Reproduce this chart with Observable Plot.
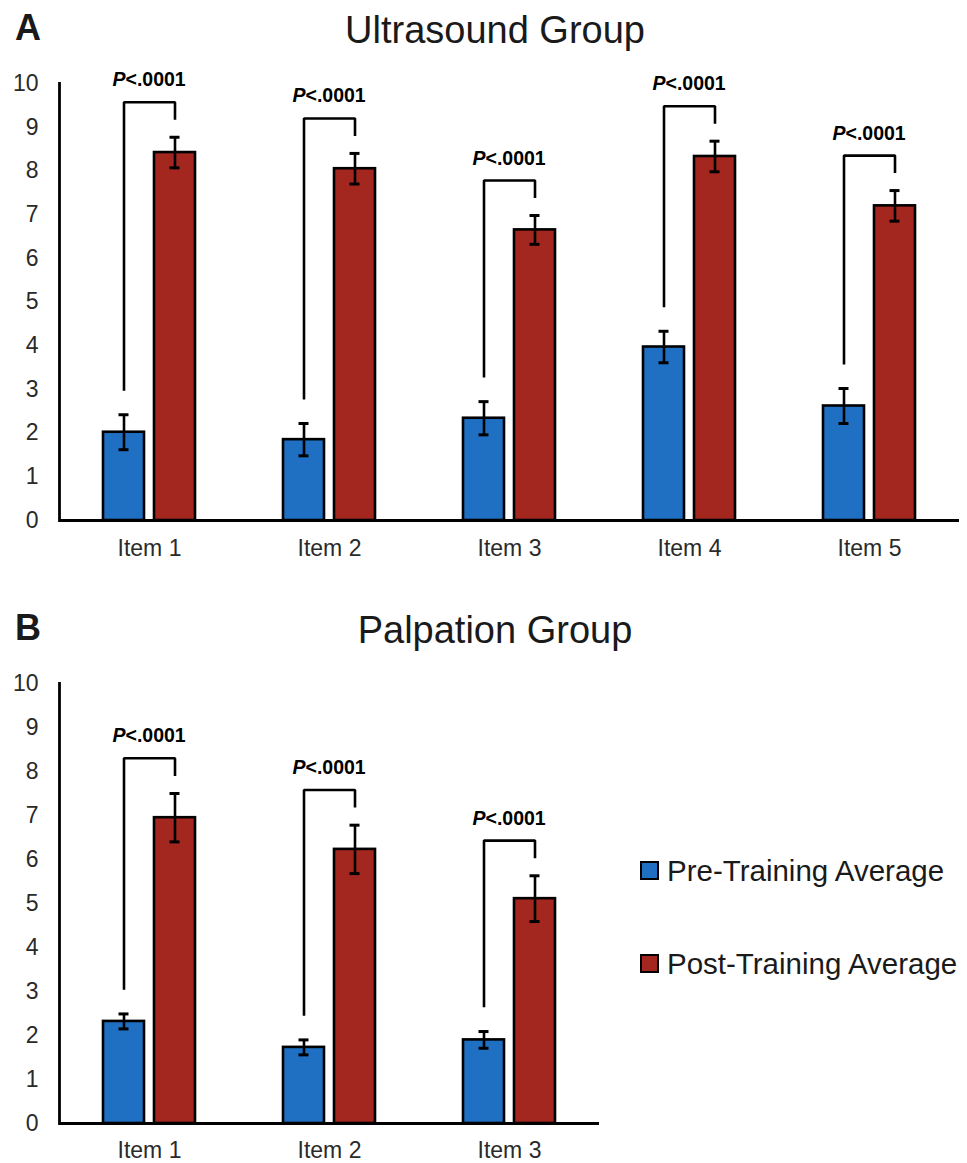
<!DOCTYPE html>
<html>
<head>
<meta charset="utf-8">
<script src="https://cdn.jsdelivr.net/npm/d3@7"></script>
<script src="https://cdn.jsdelivr.net/npm/@observablehq/plot@0.6"></script>
<style>
  html, body { margin: 0; padding: 0; background: #fff; }
  #page { position: relative; width: 967px; height: 1163px; font-family: "Liberation Sans", Arial, sans-serif; color: #1a1a1a; overflow: hidden; }
  .abs { position: absolute; white-space: nowrap; }
  .panel { position: absolute; left: 0; }
  .title { font-size: 38px; line-height: 1; }
  .letter { font-size: 36px; font-weight: bold; line-height: 1; }
  .legend-item { position: absolute; left: 640px; font-size: 29.5px; line-height: 1; }
  .swatch { display: inline-block; width: 15px; height: 15px; border: 2px solid #000; vertical-align: middle; margin-right: 8px; position: relative; top: -3px; }
</style>
</head>
<body>
<div id="page">
  <div class="abs letter" style="left:15px; top:10px;">A</div>
  <div class="abs title" style="left:495px; top:11px; transform:translateX(-50%);">Ultrasound Group</div>
  <div class="panel" id="chartA" style="top:0px;"></div>
  <div class="abs letter" style="left:15px; top:610px;">B</div>
  <div class="abs title" style="left:495px; top:611px; transform:translateX(-50%);">Palpation Group</div>
  <div class="panel" id="chartB" style="top:600px;"></div>
  <div id="legend"></div>
</div>
<script>
// ---- data ----
const phases = ["Pre-Training Average", "Post-Training Average"];
const phaseColors = ["#1f6fc2", "#a3271f"];
const yTicks = [0, 1, 2, 3, 4, 5, 6, 7, 8, 9, 10];
const pLabel = "<.0001";

const itemsA = ["Item 1", "Item 2", "Item 3", "Item 4", "Item 5"];
const preA = [2.02, 1.85, 2.34, 3.97, 2.62];
const preErrA = [0.40, 0.37, 0.38, 0.36, 0.40];
const postA = [8.42, 8.05, 6.65, 8.33, 7.20];
const postErrA = [0.35, 0.35, 0.33, 0.35, 0.35];

const itemsB = ["Item 1", "Item 2", "Item 3"];
const preB = [2.32, 1.73, 1.90];
const preErrB = [0.17, 0.17, 0.19];
const postB = [6.95, 6.23, 5.11];
const postErrB = [0.55, 0.55, 0.52];

// ---- build ----
function makeChart(items, pre, preErr, post, postErr, opts) {
  const rows = [];
  const brackets = [];
  const labels = [];
  items.forEach((item, i) => {
    rows.push({item, phase: phases[0], value: pre[i], lo: pre[i] - preErr[i], hi: pre[i] + preErr[i]});
    rows.push({item, phase: phases[1], value: post[i], lo: post[i] - postErr[i], hi: post[i] + postErr[i]});
    const top = post[i] + postErr[i] + 0.8;
    brackets.push({item, phase: phases[0], y: pre[i] + preErr[i] + 0.55});
    brackets.push({item, phase: phases[0], y: top});
    brackets.push({item, phase: phases[1], y: top});
    brackets.push({item, phase: phases[1], y: top - 0.4});
    labels.push({item, y: top});
  });
  return Plot.plot({
    width: opts.width,
    height: opts.height,
    marginTop: 83,
    marginBottom: opts.marginBottom,
    marginLeft: 58,
    marginRight: opts.marginRight,
    style: {fontFamily: "Liberation Sans, Arial, sans-serif", background: "transparent", overflow: "visible"},
    fx: {domain: items, padding: 0, label: null},
    x: {domain: phases, paddingInner: 0.19, paddingOuter: 0.826, axis: null},
    y: {domain: [0, 10]},
    color: {domain: phases, range: phaseColors},
    marks: [
      Plot.barY(rows, {fx: "item", x: "phase", y: "value", fill: "phase", stroke: "#000", strokeWidth: 2.6}),
      Plot.ruleX(rows, {fx: "item", x: "phase", y1: "lo", y2: "hi", stroke: "#000", strokeWidth: 2.6}),
      Plot.tickY(rows, {fx: "item", x: "phase", y: "hi", stroke: "#000", strokeWidth: 3, insetLeft: 15.5, insetRight: 15.5}),
      Plot.tickY(rows, {fx: "item", x: "phase", y: "lo", stroke: "#000", strokeWidth: 3, insetLeft: 15.5, insetRight: 15.5}),
      Plot.line(brackets, {fx: "item", x: "phase", y: "y", z: "item", stroke: "#000", strokeWidth: 2.6, strokeLinejoin: "miter", strokeLinecap: "butt"}),
      Plot.text(labels, {fx: "item", y: "y", text: () => "P", frameAnchor: "middle", textAnchor: "end", lineAnchor: "bottom", dx: -24, dy: -16, fontSize: 19.5, fontWeight: "bold", fontStyle: "italic", fill: "#000"}),
      Plot.text(labels, {fx: "item", y: "y", text: () => pLabel, frameAnchor: "middle", textAnchor: "start", lineAnchor: "bottom", dx: -24, dy: -16, fontSize: 19.5, fontWeight: "bold", fill: "#000"}),
      Plot.ruleY([0], {stroke: "#000", strokeWidth: 2.8}),
      Plot.frame({anchor: "left", facetAnchor: "left", stroke: "#000", strokeWidth: 2.8}),
      Plot.axisY({ticks: yTicks, tickSize: 0, tickPadding: 21, fontSize: 23, label: null, fill: "#2a2a2a", tickFormat: d => String(d)}),
      Plot.axisFx({anchor: "bottom", tickSize: 0, tickPadding: opts.fxPad, fontSize: 23, label: null, fill: "#2a2a2a"})
    ]
  });
}

document.getElementById("chartA").appendChild(
  makeChart(itemsA, preA, preErrA, postA, postErrA, {width: 967, height: 565, marginBottom: 45, marginRight: 7, fxPad: 19})
);
document.getElementById("chartB").appendChild(
  makeChart(itemsB, preB, preErrB, postB, postErrB, {width: 600, height: 563, marginBottom: 40, marginRight: 0, fxPad: 18})
);

// legend
const legend = document.getElementById("legend");
const legendTops = [856, 949];
phases.forEach((p, i) => {
  const d = document.createElement("div");
  d.className = "legend-item";
  d.style.top = legendTops[i] + "px";
  const sw = document.createElement("span");
  sw.className = "swatch";
  sw.style.background = phaseColors[i];
  d.appendChild(sw);
  d.appendChild(document.createTextNode(p));
  legend.appendChild(d);
});
</script>
</body>
</html>
